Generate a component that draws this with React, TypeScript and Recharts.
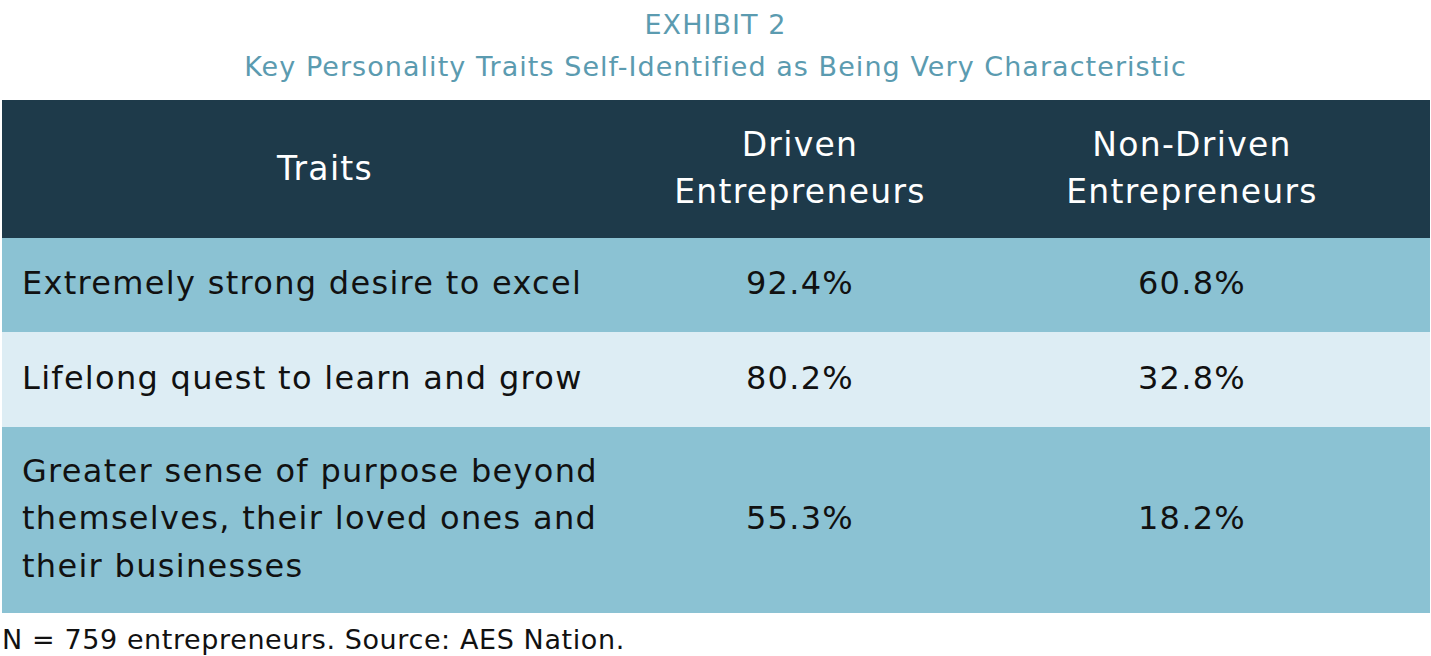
import React from "react";
import { Bar, BarChart, LabelList, XAxis, YAxis } from "recharts";

// column headings and trait labels, already broken into the lines the reference shows
const columnTitles = [["Traits"], ["Driven", "Entrepreneurs"], ["Non-Driven", "Entrepreneurs"]];
const traits = [
  ["Extremely strong desire to excel"],
  ["Lifelong quest to learn and grow"],
  ["Greater sense of purpose beyond", "themselves, their loved ones and", "their businesses"],
];
const driven = [92.4, 80.2, 55.3];
const nonDriven = [60.8, 32.8, 18.2];

const TABLE_W = 1428;
const COL_X = [323, 798, 1190];
const FONT = "'DejaVu Sans', sans-serif";
const rowFills = ["#8bc2d3", "#ddedf4", "#8bc2d3"];
const rowHeights = [94, 95, 186];
const LINE_H = 47.5;
const BODY_SIZE = 32;
const SPACING = 1.3;

const fmt = (v: number) => `${v.toFixed(1)}%`;

function Lines({
  lines,
  x,
  cy,
  anchor,
  fill,
  size,
}: {
  lines: string[];
  x: number;
  cy: number;
  anchor: "start" | "middle";
  fill: string;
  size: number;
}) {
  const n = lines.length;
  return (
    <text
      x={x}
      textAnchor={anchor}
      fill={fill}
      style={{ fontFamily: FONT, fontSize: size, letterSpacing: SPACING }}
    >
      {lines.map((l, i) => (
        <tspan key={i} x={x} y={cy + (i - (n - 1) / 2) * LINE_H} dominantBaseline="central">
          {l}
        </tspan>
      ))}
    </text>
  );
}

function HeaderRow() {
  return (
    <div style={{ width: TABLE_W, height: 138, background: "#1e3a4a" }}>
      <svg width={TABLE_W} height={138} style={{ display: "block" }}>
        {columnTitles.map((t, i) => (
          <Lines key={i} lines={t} x={COL_X[i]} cy={68} anchor="middle" fill="#ffffff" size={33} />
        ))}
      </svg>
    </div>
  );
}

function BodyRow({ idx }: { idx: number }) {
  const data = [{ trait: traits[idx].join(" "), driven: driven[idx], nonDriven: nonDriven[idx] }];
  return (
    <BarChart
      width={TABLE_W}
      height={rowHeights[idx]}
      data={data}
      layout="vertical"
      margin={{ top: 0, right: 0, bottom: 0, left: 0 }}
      barCategoryGap={0}
    >
      <XAxis type="number" domain={[0, 100]} hide />
      <YAxis type="category" dataKey="trait" hide />
      <Bar dataKey="driven" fill="none" background={{ fill: rowFills[idx] }} isAnimationActive={false}>
        <LabelList
          dataKey="driven"
          content={(p: any) => {
            const cy = Number(p.y) + Number(p.height) / 2 - 2;
            return (
              <g>
                <Lines lines={traits[idx]} x={20} cy={cy} anchor="start" fill="#111111" size={BODY_SIZE} />
                <Lines lines={[fmt(driven[idx])]} x={COL_X[1]} cy={cy} anchor="middle" fill="#111111" size={BODY_SIZE} />
                <Lines lines={[fmt(nonDriven[idx])]} x={COL_X[2]} cy={cy} anchor="middle" fill="#111111" size={BODY_SIZE} />
              </g>
            );
          }}
        />
      </Bar>
    </BarChart>
  );
}

export default function App() {
  return (
    <div
      style={{
        position: "absolute",
        left: 0,
        top: 0,
        width: 1431,
        height: 656,
        background: "#ffffff",
        fontFamily: FONT,
        overflow: "hidden",
      }}
    >
      <div style={{ height: 100, textAlign: "center", color: "#5b9bb0", fontSize: 27, letterSpacing: 1.05 }}>
        <div style={{ position: "absolute", top: 7, width: 1431, lineHeight: "36px" }}>EXHIBIT 2</div>
        <div style={{ position: "absolute", top: 49, width: 1431, lineHeight: "36px" }}>
          Key Personality Traits Self-Identified as Being Very Characteristic
        </div>
      </div>
      <div style={{ marginLeft: 2, width: TABLE_W }}>
        <HeaderRow />
        {traits.map((_, i) => (
          <div key={i} style={{ height: rowHeights[i] }}>
            <BodyRow idx={i} />
          </div>
        ))}
      </div>
      <div
        style={{
          position: "absolute",
          left: 2,
          top: 623,
          fontSize: 27,
          letterSpacing: 0.6,
          lineHeight: "34px",
          color: "#111111",
          whiteSpace: "nowrap",
        }}
      >
        N = 759 entrepreneurs. Source: AES Nation.
      </div>
    </div>
  );
}
